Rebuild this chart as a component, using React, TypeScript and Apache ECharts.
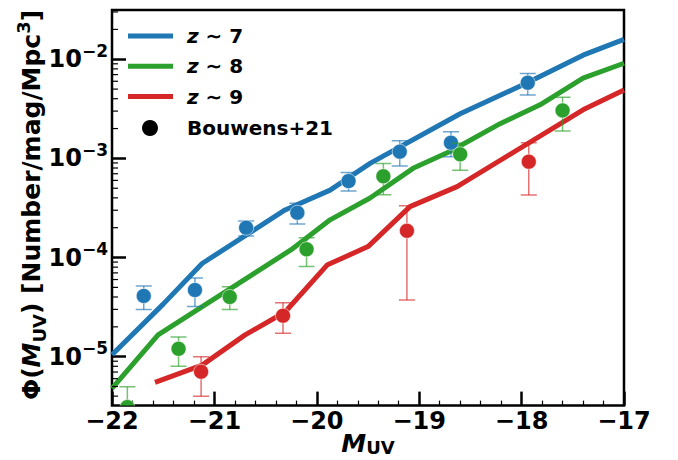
import { useEffect, useRef } from "react";
import * as echarts from "echarts";

const FONT = "DejaVu Sans";
const BLUE = "#1f77b4";
const GREEN = "#2ca02c";
const RED = "#d62728";

// Axis ranges
const X_MIN = -22;
const X_MAX = -17;
const Y_MIN = 3.21e-6;
const Y_MAX = 3.14e-2;

// Model luminosity functions
const z7ModelMag = [-22.0, -21.5, -21.12, -20.31, -19.87, -19.48, -18.6, -17.95, -17.4, -17.0];
const z7ModelPhi = [1.047e-5, 3.39e-5, 8.71e-5, 3.02e-4, 4.79e-4, 8.91e-4, 2.82e-3, 5.75e-3, 1.1e-2, 1.585e-2];

const z8ModelMag = [-22.0, -21.55, -20.25, -19.87, -19.48, -19.06, -18.7, -18.21, -17.82, -17.4, -17.0];
const z8ModelPhi = [4.79e-6, 1.66e-5, 1.2e-4, 2.4e-4, 3.98e-4, 7.94e-4, 1.175e-3, 2.24e-3, 3.47e-3, 6.46e-3, 9.12e-3];

const z9ModelMag = [-21.58, -21.12, -20.7, -20.31, -19.9, -19.5, -19.09, -18.63, -17.4, -17.0];
const z9ModelPhi = [5.5e-6, 8.22e-6, 1.66e-5, 2.82e-5, 8.4e-5, 1.29e-4, 3.26e-4, 5.19e-4, 3.09e-3, 4.9e-3];

// Bouwens+21 stepwise determinations
const z7ObsMag = [-21.69, -21.19, -20.69, -20.19, -19.69, -19.19, -18.69, -17.94];
const z7ObsPhi = [4.1e-5, 4.7e-5, 2.0e-4, 2.83e-4, 5.9e-4, 1.17e-3, 1.44e-3, 5.8e-3];
const z7ObsLo = [3.0e-5, 3.2e-5, 1.65e-4, 2.18e-4, 4.7e-4, 8.4e-4, 1.04e-3, 4.36e-3];
const z7ObsHi = [5.15e-5, 6.2e-5, 2.33e-4, 3.52e-4, 7.2e-4, 1.51e-3, 1.86e-3, 7.2e-3];

const z8ObsMag = [-21.85, -21.35, -20.85, -20.1, -19.35, -18.6, -17.6];
const z8ObsPhi = [3.1e-6, 1.2e-5, 4.0e-5, 1.21e-4, 6.6e-4, 1.1e-3, 3.05e-3];
const z8ObsLo = [1.5e-6, 8.0e-6, 3.0e-5, 8.1e-5, 4.3e-4, 7.6e-4, 1.89e-3];
const z8ObsHi = [4.97e-6, 1.58e-5, 5.07e-5, 1.58e-4, 8.9e-4, 1.42e-3, 4.14e-3];

const z9ObsMag = [-21.13, -20.33, -19.12, -17.93];
const z9ObsPhi = [7.05e-6, 2.59e-5, 1.86e-4, 9.27e-4];
const z9ObsLo = [4.0e-6, 1.72e-5, 3.72e-5, 4.28e-4];
const z9ObsHi = [1.0e-5, 3.5e-5, 3.33e-4, 1.44e-3];

// Log minor ticks (2..9 x 10^n) inside the y range
const minorDecades = [1e-6, 1e-5, 1e-4, 1e-3, 1e-2];
const minorSteps = [2, 3, 4, 5, 6, 7, 8, 9];

const legendEntries = [
  { label: "7", color: BLUE },
  { label: "8", color: GREEN },
  { label: "9", color: RED },
];

const minus = (v: number) => (v < 0 ? "\u2212" : "") + Math.abs(v);

function modelSeries(mag: number[], phi: number[], color: string) {
  return {
    type: "line",
    data: mag.map((m, i) => [m, phi[i]]),
    showSymbol: false,
    symbol: "none",
    clip: true,
    silent: true,
    z: 2,
    lineStyle: { color, width: 5, cap: "butt", join: "round" },
  };
}

function obsSeries(mag: number[], phi: number[], lo: number[], hi: number[], color: string) {
  return {
    type: "custom",
    clip: true,
    silent: true,
    z: 5,
    data: mag.map((m, i) => [m, phi[i], lo[i], hi[i]]),
    encode: { x: 0, y: 1 },
    renderItem: (_params: any, api: any) => {
      const x = api.value(0);
      const c = api.coord([x, api.value(1)]);
      const l = api.coord([x, api.value(2)]);
      const h = api.coord([x, api.value(3)]);
      const cap = 8;
      const bar = { stroke: color, lineWidth: 1.5, opacity: 0.65 };
      return {
        type: "group",
        children: [
          { type: "line", shape: { x1: c[0], y1: l[1], x2: c[0], y2: h[1] }, style: bar },
          { type: "line", shape: { x1: c[0] - cap, y1: l[1], x2: c[0] + cap, y2: l[1] }, style: bar },
          { type: "line", shape: { x1: c[0] - cap, y1: h[1], x2: c[0] + cap, y2: h[1] }, style: bar },
          {
            type: "circle",
            shape: { cx: c[0], cy: c[1], r: 7.5 },
            style: { fill: color, stroke: "rgba(255,255,255,0.55)", lineWidth: 1 },
          },
        ],
      };
    },
  };
}

export default function App() {
  const ref = useRef<HTMLDivElement>(null);

  useEffect(() => {
    if (!ref.current) return;
    const chart = echarts.init(ref.current, undefined, { renderer: "svg" });

    const minorVals: number[][] = [];
    minorDecades.forEach((d) =>
      minorSteps.forEach((s) => {
        const v = s * d;
        if (v > Y_MIN && v < Y_MAX) minorVals.push([X_MIN, v]);
      })
    );

    const legendGraphics: any[] = [];
    legendEntries.forEach((e, i) => {
      const y = 36 + i * 30.3;
      legendGraphics.push({
        type: "line",
        shape: { x1: 128, y1: y, x2: 173, y2: y },
        style: { stroke: e.color, lineWidth: 5 },
      });
      legendGraphics.push({
        type: "text",
        x: 187,
        y,
        style: {
          text: `{i|z}{n| \u223c ${e.label}}`,
          align: "left",
          verticalAlign: "middle",
          rich: {
            i: { fontFamily: FONT, fontSize: 20, fontWeight: "bold", fontStyle: "italic", fill: "#000" },
            n: { fontFamily: FONT, fontSize: 20, fontWeight: "bold", fill: "#000" },
          },
        },
      });
    });
    legendGraphics.push({
      type: "circle",
      shape: { cx: 150, cy: 128, r: 8 },
      style: { fill: "#000" },
    });
    legendGraphics.push({
      type: "text",
      x: 187,
      y: 128,
      style: {
        text: "Bouwens+21",
        align: "left",
        verticalAlign: "middle",
        fontFamily: FONT,
        fontSize: 20,
        fontWeight: "bold",
        fill: "#000",
      },
    });

    chart.setOption({
      animation: false,
      backgroundColor: "#fff",
      grid: {
        left: 112,
        top: 10,
        right: 54,
        bottom: 54.4,
        show: true,
        borderColor: "#000",
        borderWidth: 2.5,
        backgroundColor: "transparent",
        containLabel: false,
        outerBoundsMode: "none",
      },
      xAxis: {
        type: "value",
        min: X_MIN,
        max: X_MAX,
        interval: 1,
        axisLine: { show: false },
        axisTick: { show: true, inside: true, length: 14, lineStyle: { color: "#000", width: 2.5 } },
        minorTick: { show: true, splitNumber: 5, length: 5, lineStyle: { color: "#000", width: 1.2 } },
        splitLine: { show: false },
        minorSplitLine: { show: false },
        axisLabel: {
          margin: 3,
          formatter: (v: number) => minus(v),
          fontFamily: FONT,
          fontSize: 24,
          fontWeight: "bold",
          color: "#000",
        },
      },
      yAxis: {
        type: "log",
        logBase: 10,
        min: Y_MIN,
        max: Y_MAX,
        axisLine: { show: false },
        axisTick: { show: true, inside: true, length: 14, lineStyle: { color: "#000", width: 2.5 } },
        splitLine: { show: false },
        axisLabel: {
          margin: 4,
          showMinLabel: false,
          showMaxLabel: false,
          formatter: (v: number) => {
            const e = Math.log10(v);
            const r = Math.round(e);
            if (Math.abs(e - r) > 1e-6) return "";
            return `{n|10}{s|${minus(r)}}`;
          },
          rich: {
            n: { fontFamily: FONT, fontSize: 24, fontWeight: "bold", color: "#000", lineHeight: 34 },
            s: { fontFamily: FONT, fontSize: 17, fontWeight: "bold", color: "#000", lineHeight: 18, verticalAlign: "top" },
          },
        },
      },
      series: [
        {
          type: "custom",
          silent: true,
          clip: false,
          z: 6,
          data: minorVals,
          encode: { x: 0, y: 1 },
          renderItem: (_p: any, api: any) => {
            const p = api.coord([api.value(0), api.value(1)]);
            return {
              type: "line",
              shape: { x1: p[0], y1: p[1], x2: p[0] + 6, y2: p[1] },
              style: { stroke: "#000", lineWidth: 1.2 },
            };
          },
        },
        modelSeries(z7ModelMag, z7ModelPhi, BLUE),
        modelSeries(z8ModelMag, z8ModelPhi, GREEN),
        modelSeries(z9ModelMag, z9ModelPhi, RED),
        obsSeries(z7ObsMag, z7ObsPhi, z7ObsLo, z7ObsHi, BLUE),
        obsSeries(z8ObsMag, z8ObsPhi, z8ObsLo, z8ObsHi, GREEN),
        obsSeries(z9ObsMag, z9ObsPhi, z9ObsLo, z9ObsHi, RED),
      ],
      graphic: [
        ...legendGraphics,
        {
          type: "text",
          x: 368,
          y: 443,
          style: {
            text: "{m|M}{u|UV}",
            align: "center",
            verticalAlign: "middle",
            rich: {
              m: { fontFamily: FONT, fontSize: 25, fontWeight: "bold", fontStyle: "italic", fill: "#000", lineHeight: 26 },
              u: { fontFamily: FONT, fontSize: 18, fontWeight: "bold", fill: "#000", lineHeight: 17, verticalAlign: "bottom" },
            },
          },
        },
        {
          type: "text",
          x: 31,
          y: 205,
          rotation: Math.PI / 2,
          style: {
            text: "{n|\u03a6(}{m|M}{u|UV}{n|) [Number/mag/Mpc}{s|3}{n|]}",
            align: "center",
            verticalAlign: "middle",
            rich: {
              n: { fontFamily: FONT, fontSize: 25, fontWeight: "bold", fill: "#000", lineHeight: 34 },
              m: { fontFamily: FONT, fontSize: 25, fontWeight: "bold", fontStyle: "italic", fill: "#000", lineHeight: 34 },
              u: { fontFamily: FONT, fontSize: 18, fontWeight: "bold", fill: "#000", lineHeight: 21, verticalAlign: "bottom" },
              s: { fontFamily: FONT, fontSize: 18, fontWeight: "bold", fill: "#000", lineHeight: 20, verticalAlign: "top" },
            },
          },
        },
      ],
    });

    return () => chart.dispose();
  }, []);

  return (
    <div
      ref={ref}
      style={{ position: "absolute", left: 0, top: 0, width: 678, height: 460 }}
    />
  );
}
